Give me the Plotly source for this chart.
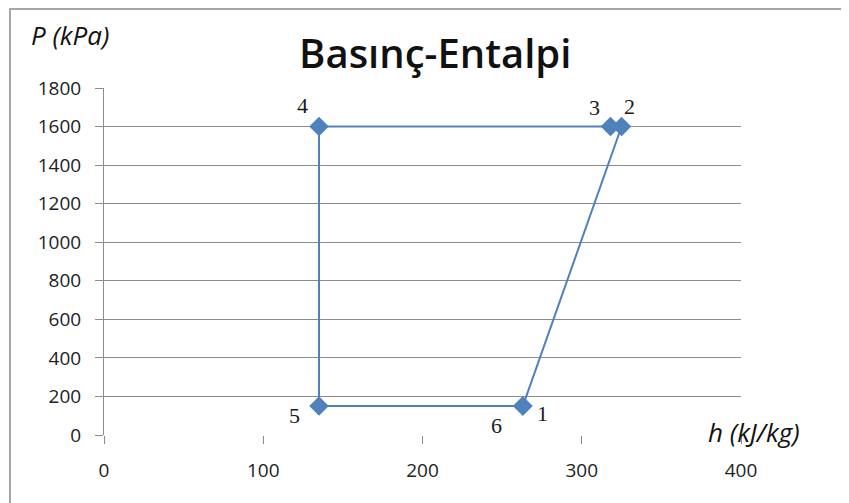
import plotly.graph_objects as go

# Data
state_labels = ["1", "2", "3", "4", "5", "6"]
enthalpy = [263, 325, 318, 135, 135, 263]
pressure = [150, 1600, 1600, 1600, 150, 150]
x_ticks = [0, 100, 200, 300, 400]
y_ticks = [0, 200, 400, 600, 800, 1000, 1200, 1400, 1600, 1800]

# label offsets in pixels (dx right, dy down)
label_pos = {
    "1": (20, 7),
    "2": (8, -20),
    "3": (-16, -19),
    "4": (-16, -21),
    "5": (-24, 9),
    "6": (-26, 19),
}

BLUE = "#4F81BD"
fig = go.Figure()
fig.add_trace(go.Scatter(
    x=enthalpy, y=pressure, mode="lines+markers",
    line=dict(color=BLUE, width=2),
    marker=dict(symbol="diamond", size=15, color=BLUE),
    hoverinfo="x+y",
))

for lab, hx, py in zip(state_labels, enthalpy, pressure):
    dx, dy = label_pos[lab]
    fig.add_annotation(x=hx, y=py, text=lab, showarrow=False, xshift=dx, yshift=-dy,
                       font=dict(family="Liberation Serif", size=22, color="#1a1a1a"))

fig.add_annotation(xref="paper", yref="paper", x=-0.118, y=1.153, xanchor="left", yanchor="middle",
                   text="<i>P (kPa)</i>", showarrow=False,
                   font=dict(family="Open Sans", size=26, color="#111"))
fig.add_annotation(xref="paper", yref="paper", x=0.945, y=0.01, xanchor="left", yanchor="middle",
                   text="<i>h (kJ/kg)</i>", showarrow=False,
                   font=dict(family="Open Sans", size=26, color="#111"))

# outer chart border
fig.add_shape(type="rect", xref="paper", yref="paper", x0=-0.1476, x1=1.3, y0=-0.3, y1=1.2277,
              line=dict(color="#A6A6A6", width=2), layer="below")

fig.update_layout(
    width=849, height=503,
    margin=dict(l=96, r=116, t=80, b=76),
    paper_bgcolor="white", plot_bgcolor="white",
    showlegend=False,
    title=dict(text="Basınç-Entalpi", x=0.52, xref="paper", xanchor="center", y=0.9085, yanchor="middle",
               font=dict(family="Open Sans", size=40, color="#111", weight=600)),
    xaxis=dict(range=[0, 400], tickvals=x_ticks, showgrid=False, zeroline=False,
               showline=False, ticks="outside", ticklen=8, tickcolor="#8c8c8c",
               tickfont=dict(family="Open Sans", size=19, color="#222"), ticklabelstandoff=10),
    yaxis=dict(range=[0, 1800], tickvals=y_ticks, showgrid=True, gridcolor="#8c8c8c", gridwidth=1,
               zeroline=False, showline=True, linecolor="#8c8c8c", linewidth=1,
               ticks="outside", ticklen=8, tickcolor="#8c8c8c", ticklabelstandoff=10,
               tickfont=dict(family="Open Sans", size=19, color="#222")),
)

fig.write_html("out.html")
